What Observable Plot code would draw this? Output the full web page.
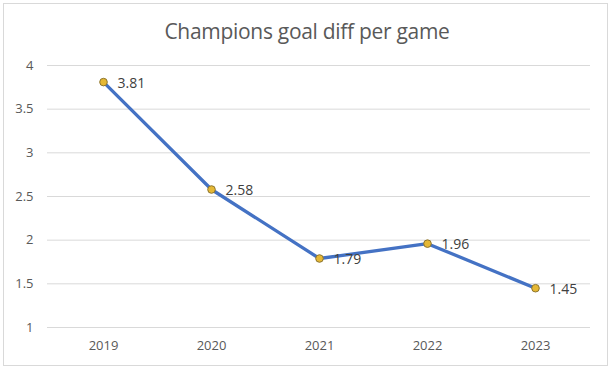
<!DOCTYPE html>
<html>
<head>
<meta charset="utf-8">
<script src="https://cdn.jsdelivr.net/npm/d3@7"></script>
<script src="https://cdn.jsdelivr.net/npm/@observablehq/plot@0.6"></script>
<style>
  html, body { margin: 0; padding: 0; background: #fff; }
  #wrap { position: relative; width: 614px; height: 373px; overflow: hidden; }
  #frame { position: absolute; left: 3px; top: 3px; width: 605px; height: 363px; border: 1px solid #d9d9d9; box-sizing: border-box; }
  #title { position: absolute; left: 0; top: 17px; width: 614px; text-align: center;
           font-family: "Open Sans", sans-serif; font-size: 21px; color: #595959; letter-spacing: -0.3px; }
  #chart { position: absolute; left: 0; top: 0; }
</style>
</head>
<body>
<div id="wrap">
  <div id="frame"></div>
  <div id="chart"></div>
  <div id="title">Champions goal diff per game</div>
</div>
<script>
const years = ["2019", "2020", "2021", "2022", "2023"];
const values = [3.81, 2.58, 1.79, 1.96, 1.45];
const yTicks = [1, 1.5, 2, 2.5, 3, 3.5, 4];

const data = years.map((year, i) => ({year, value: values[i]}));

const chart = Plot.plot({
  width: 614,
  height: 373,
  marginLeft: 47,
  marginRight: 24,
  marginTop: 65,
  marginBottom: 46,
  style: {fontFamily: "Open Sans, sans-serif", fontSize: "13px", color: "#595959", background: "transparent"},
  x: {type: "point", domain: years, padding: 0.5, label: null},
  y: {domain: [1, 4], label: null},
  marks: [
    Plot.ruleY(yTicks, {stroke: "#d9d9d9", strokeWidth: 1}),
    Plot.axisX({tickSize: 0, tickPadding: 13, fill: "#595959", fontSize: 13}),
    Plot.axisY({ticks: yTicks, tickSize: 0, tickPadding: 14, fill: "#595959", fontSize: 13,
                tickFormat: d => String(d)}),
    Plot.line(data, {x: "year", y: "value", stroke: "#4472C4", strokeWidth: 3.3, strokeLinejoin: "round", strokeLinecap: "round"}),
    Plot.dot(data, {x: "year", y: "value", r: 3.8, fill: "#E5B835", stroke: "#8c7530", strokeWidth: 1}),
    Plot.text(data, {x: "year", y: "value", text: d => d.value.toFixed(2), textAnchor: "start", dx: 14, dy: 1,
                     fill: "#404040", fontSize: 14})
  ]
});
document.getElementById("chart").appendChild(chart);
</script>
</body>
</html>
